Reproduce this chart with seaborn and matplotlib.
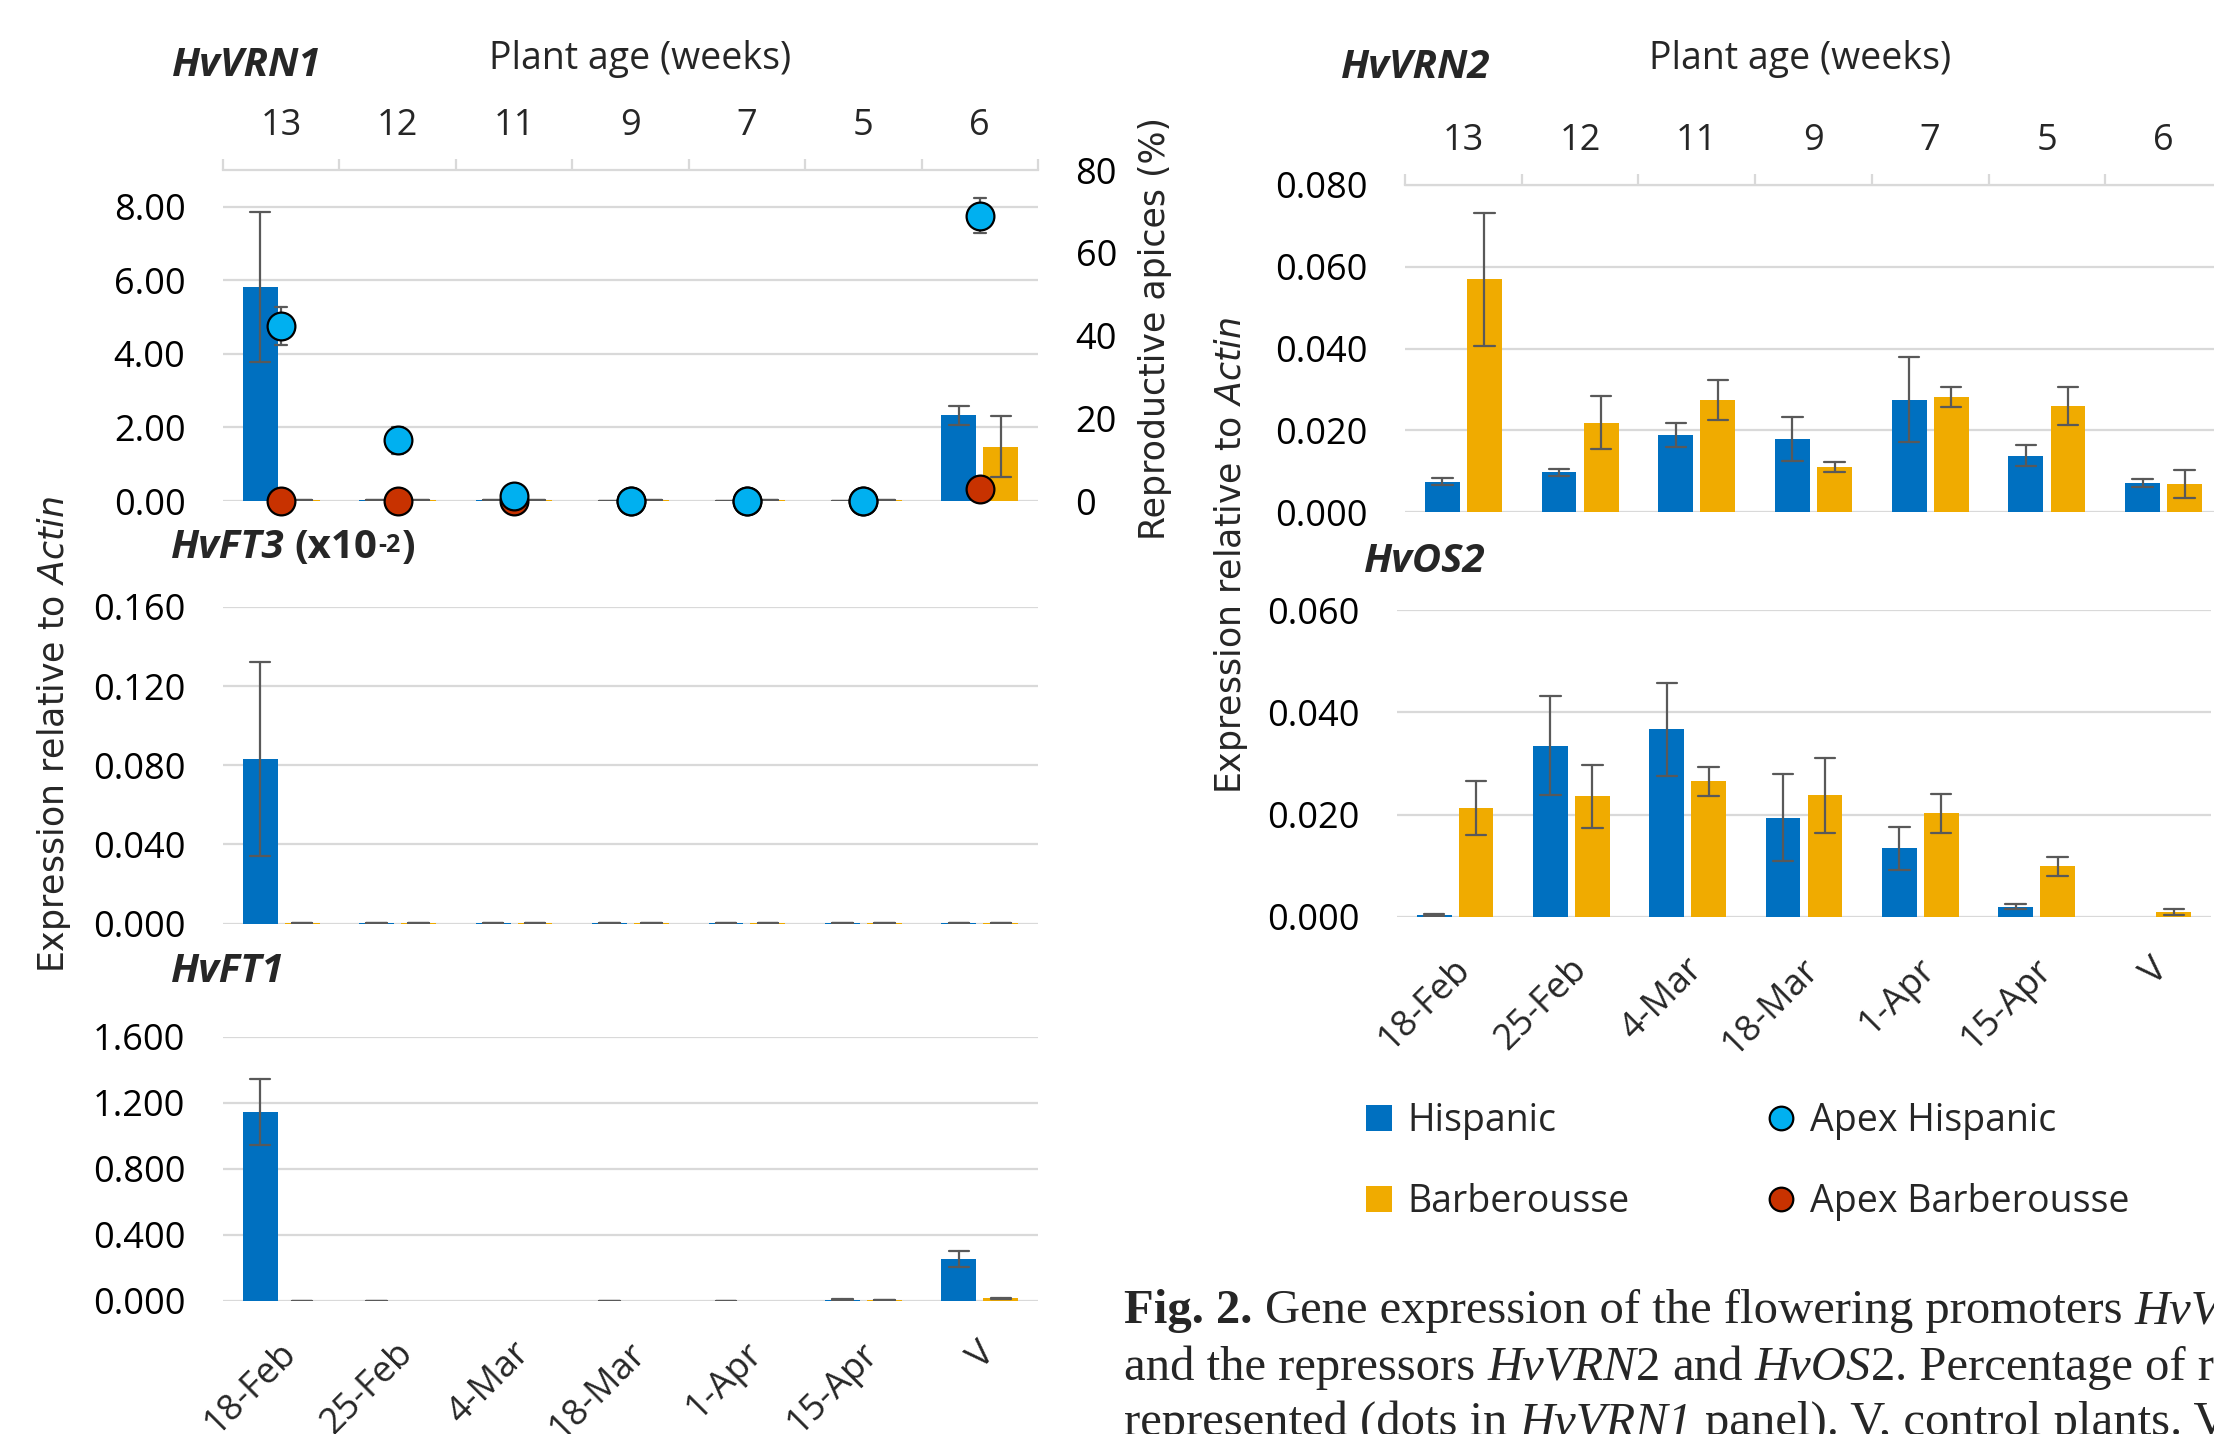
import numpy as np
import pandas as pd
import matplotlib
matplotlib.use("Agg")
import matplotlib.pyplot as plt
import matplotlib.transforms as mtransforms
from matplotlib.text import Annotation
from matplotlib.lines import Line2D
from matplotlib.patches import Patch
import seaborn as sns

# ---------------- data ----------------
categories = ["18-Feb", "25-Feb", "4-Mar", "18-Mar", "1-Apr", "15-Apr", "V"]
weeks = ["13", "12", "11", "9", "7", "5", "6"]
genotypes = ["Hispanic", "Barberousse"]
nan = np.nan

vrn1_hisp = [5.82, 0.02, 0.02, 0.01, 0.01, 0.01, 2.33]
vrn1_hisp_err = [2.05, 0, 0, 0, 0, 0, 0.25]
vrn1_barb = [0.02, 0.02, 0.02, 0.02, 0.02, 0.02, 1.47]
vrn1_barb_err = [0, 0, 0, 0, 0, 0, 0.83]

apex_hisp = [42.2, 14.7, 1.1, 0, 0, 0, 69.0]
apex_hisp_err = [4.6, 3.3, 0, 0, 0, 0, 4.3]
apex_barb = [0, 0, 0, 0, 0, 0, 2.9]

ft3_hisp = [0.0832, 0.0003, 0.0003, 0.0003, 0.0003, 0.0003, 0.0005]
ft3_hisp_err = [0.049, 0, 0, 0, 0, 0, 0]
ft3_barb = [0.0003, 0.0003, 0.0003, 0.0003, 0.0003, 0.0003, 0.0003]
ft3_barb_err = [0, 0, 0, 0, 0, 0, 0]

ft1_hisp = [1.143, 0.003, nan, 0.003, 0.003, 0.008, 0.253]
ft1_hisp_err = [0.20, 0, nan, 0, 0, 0.002, 0.048]
ft1_barb = [0.003, nan, nan, nan, nan, 0.004, 0.016]
ft1_barb_err = [0, nan, nan, nan, nan, 0, 0.004]

vrn2_hisp = [0.0074, 0.0097, 0.0189, 0.0178, 0.0275, 0.0138, 0.0071]
vrn2_hisp_err = [0.0008, 0.0009, 0.0029, 0.0054, 0.0104, 0.0025, 0.0010]
vrn2_barb = [0.0569, 0.0218, 0.0274, 0.0111, 0.0281, 0.0259, 0.0068]
vrn2_barb_err = [0.0163, 0.0065, 0.0050, 0.0012, 0.0025, 0.0046, 0.0034]

os2_hisp = [0.0003, 0.0335, 0.0367, 0.0194, 0.0134, 0.0020, nan]
os2_hisp_err = [0.0002, 0.0097, 0.0091, 0.0085, 0.0042, 0.0005, nan]
os2_barb = [0.0213, 0.0236, 0.0265, 0.0238, 0.0203, 0.0099, 0.0010]
os2_barb_err = [0.0053, 0.0062, 0.0029, 0.0073, 0.0038, 0.0018, 0.0006]

# ---------------- style ----------------
sns.set_theme(style="white")
plt.rcParams["font.family"] = ["Open Sans", "DejaVu Sans"]
plt.rcParams["mathtext.fontset"] = "dejavusans"

BLUE = "#0070C0"
GOLD = "#F0AB00"
CYAN = "#00B0F0"
RED = "#C83200"
GRID = "#D9D9D9"
ERR = "#595959"
palette = {"Hispanic": BLUE, "Barberousse": GOLD}
FS = 26
TFS = 29

W, H = 2214, 1434
fig = plt.figure(figsize=(W / 100, H / 100), dpi=100)


def rect(x0, y0, x1, y1):
    return [x0 / W, 1 - y1 / H, (x1 - x0) / W, (y1 - y0) / H]


def long_table(h, he, b, be):
    rows = []
    for g, m, e in (("Hispanic", h, he), ("Barberousse", b, be)):
        for c, mi, ei in zip(categories, m, e):
            if np.isnan(mi):
                continue
            rows.append((c, g, mi - ei))
            rows.append((c, g, mi + ei))
    return pd.DataFrame(rows, columns=["date", "genotype", "value"])


def bars(ax, h, he, b, be):
    df = long_table(h, he, b, be)
    sns.barplot(data=df, x="date", y="value", hue="genotype", order=categories,
                hue_order=genotypes, palette=palette, estimator="mean",
                errorbar=("pi", 100), capsize=0.35,
                err_kws={"color": ERR, "linewidth": 1.6},
                width=0.72, gap=0.17, linewidth=0, saturation=1,
                legend=False, ax=ax)


def style(ax, top, ticks, fmt):
    ax.set_xlim(-0.5, 6.5)
    ax.set_ylim(0, top)
    ax.set_yticks(ticks)
    ax.set_yticklabels([fmt.format(t) for t in ticks])
    ax.grid(axis="y", color=GRID, linewidth=1.6)
    ax.grid(axis="x", visible=False)
    ax.set_axisbelow(True)
    for s in ax.spines.values():
        s.set_visible(False)
    ax.tick_params(axis="y", length=0, pad=27, labelsize=FS, labelcolor="black")
    ax.set_xlabel("")
    ax.set_ylabel("")


def top_weeks(ax, pad):
    ax.tick_params(axis="x", bottom=False, labelbottom=False)
    sec = ax.secondary_xaxis("top")
    sec.set_xticks(range(len(weeks)), labels=weeks)
    sec.set_xticks(np.arange(-0.5, len(weeks), 1.0), minor=True)
    sec.tick_params(which="major", length=0, pad=pad, labelsize=FS)
    sec.tick_params(which="minor", length=8, width=1.6, color=GRID, direction="out")
    sec.spines["top"].set_color(GRID)
    sec.spines["top"].set_linewidth(1.6)
    return sec


def bottom_dates(ax, dx_px):
    ax.tick_params(axis="x", length=0, pad=34, labelsize=FS, labelrotation=45)
    off = mtransforms.ScaledTranslation(dx_px / 100, 0, fig.dpi_scale_trans)
    for lab in ax.get_xticklabels():
        lab.set_ha("right")
        lab.set_va("center")
        lab.set_rotation_mode("anchor")
        lab.set_transform(lab.get_transform() + off)


# ---------------- HvVRN1 ----------------
ax1 = fig.add_axes(rect(223, 170, 1038, 501))
bars(ax1, vrn1_hisp, vrn1_hisp_err, vrn1_barb, vrn1_barb_err)
ax1b = ax1.twinx()
dfr = pd.DataFrame({"date": categories, "value": apex_barb})
sns.pointplot(data=dfr, x="date", y="value", order=categories, color=RED,
              markers="o", linestyle="none", errorbar=None,
              markersize=20, markeredgecolor="black", markeredgewidth=1.6,
              zorder=3, clip_on=False, ax=ax1b)
rows = []
for c, m, e in zip(categories, apex_hisp, apex_hisp_err):
    rows += [(c, m - e), (c, m + e)]
dfc = pd.DataFrame(rows, columns=["date", "value"])
sns.pointplot(data=dfc, x="date", y="value", order=categories, color=CYAN,
              markers="o", linestyle="none", errorbar=("pi", 100), capsize=0.1,
              err_kws={"color": ERR, "linewidth": 1.6, "zorder": 2},
              markersize=20, markeredgecolor="black", markeredgewidth=1.6,
              zorder=4, clip_on=False, ax=ax1b)
style(ax1, 9, [0, 2, 4, 6, 8], "{:.2f}")
ax1b.set_ylim(0, 80)
ax1b.set_yticks([0, 20, 40, 60, 80])
ax1b.set_yticklabels(["0", "20", "40", "60", "80"])
ax1b.tick_params(axis="y", length=0, pad=27, labelsize=FS, labelcolor="black")
for s in ax1b.spines.values():
    s.set_visible(False)
ax1b.set_ylabel("")
ax1b.set_xlabel("")
ax1.set_xlim(-0.5, 6.5)
top_weeks(ax1, 19)

# ---------------- HvFT3 ----------------
ax3 = fig.add_axes(rect(223, 607, 1038, 923.5))
bars(ax3, ft3_hisp, ft3_hisp_err, ft3_barb, ft3_barb_err)
style(ax3, 0.16, [0, 0.04, 0.08, 0.12, 0.16], "{:.3f}")
ax3.tick_params(axis="x", bottom=False, labelbottom=False)

# ---------------- HvFT1 ----------------
ax4 = fig.add_axes(rect(223, 1037, 1038, 1301))
bars(ax4, ft1_hisp, ft1_hisp_err, ft1_barb, ft1_barb_err)
style(ax4, 1.6, [0, 0.4, 0.8, 1.2, 1.6], "{:.3f}")
bottom_dates(ax4, 10)

# ---------------- HvVRN2 ----------------
ax2 = fig.add_axes(rect(1405, 185, 2222, 512))
bars(ax2, vrn2_hisp, vrn2_hisp_err, vrn2_barb, vrn2_barb_err)
style(ax2, 0.08, [0, 0.02, 0.04, 0.06, 0.08], "{:.3f}")
top_weeks(ax2, 19)

# ---------------- HvOS2 ----------------
ax5 = fig.add_axes(rect(1397, 610, 2211, 917))
bars(ax5, os2_hisp, os2_hisp_err, os2_barb, os2_barb_err)
style(ax5, 0.06, [0, 0.02, 0.04, 0.06], "{:.3f}")
bottom_dates(ax5, 10)


# ---------------- texts ----------------
def ftext(x, y, s, **kw):
    return fig.text(x / W, 1 - y / H, s, **kw)


bi = dict(fontsize=TFS, weight="bold", style="italic", va="center", ha="left")
ftext(172, 66, "HvVRN1", **bi)
ftext(1341, 67, "HvVRN2", **bi)
ftext(171, 972, "HvFT1", **bi)
ftext(1364, 562, "HvOS2", **bi)
t_ft3 = ftext(171, 548, "HvFT3", **bi)
t_x = Annotation("(x10", xy=(1, 0), xycoords=t_ft3, xytext=(7, 0),
                 textcoords="offset points", fontsize=TFS, weight="bold",
                 va="bottom", ha="left")
fig.add_artist(t_x)
t_sup = Annotation("-2", xy=(1, 1), xycoords=t_x, xytext=(1, -3),
                   textcoords="offset points", fontsize=18, weight="bold",
                   va="top", ha="left")
fig.add_artist(t_sup)
t_par = Annotation(")", xy=(1, 0), xycoords=(t_sup, t_x), xytext=(1, 0),
                   textcoords="offset points", fontsize=TFS, weight="bold",
                   va="bottom", ha="left")
fig.add_artist(t_par)

ftext(640, 59, "Plant age (weeks)", fontsize=FS + 1, ha="center", va="center")
ftext(1800, 59, "Plant age (weeks)", fontsize=FS + 1, ha="center", va="center")

yl = dict(fontsize=25, rotation=90, ha="center", va="center", family="DejaVu Sans")
ftext(54, 734, r"Expression relative to $\mathit{Actin}$", **yl)
ftext(1231, 555, r"Expression relative to $\mathit{Actin}$", **yl)
ftext(1155, 328, "Reproductive apices (%)", **yl)

# ---------------- legend ----------------
handles = [
    Patch(facecolor=BLUE, edgecolor="none"),
    Patch(facecolor=GOLD, edgecolor="none"),
    Line2D([], [], marker="o", linestyle="none", markerfacecolor=CYAN,
           markeredgecolor="black", markeredgewidth=1.6, markersize=17),
    Line2D([], [], marker="o", linestyle="none", markerfacecolor=RED,
           markeredgecolor="black", markeredgewidth=1.6, markersize=17),
]
labels = ["Hispanic", "Barberousse", "Apex Hispanic", "Apex Barberousse"]
fig.legend(handles, labels, ncol=2, loc="upper left",
           bbox_to_anchor=(1366 / W, 1 - 1102 / H), frameon=False,
           fontsize=27, handlelength=0.68, handleheight=0.68, handletextpad=0.42,
           columnspacing=3.7, labelspacing=1.15, borderpad=0, borderaxespad=0)

# ---------------- caption ----------------
CFS = 35
CAP = dict(fontsize=CFS, family="Liberation Serif", va="baseline", ha="left")
SPACE = 0.25 * CFS


def caption_line(pieces, x, y):
    prev = None
    for txt, st, sp in pieces:
        kw = dict(CAP)
        if st == "b":
            kw["weight"] = "bold"
        elif st == "i":
            kw["style"] = "italic"
        if prev is None:
            prev = ftext(x, y, txt, **kw)
        else:
            a = Annotation(txt, xy=(1, H - y), xycoords=(prev, "figure pixels"),
                           xytext=(SPACE if sp else 0, 0), textcoords="offset points",
                           **kw)
            fig.add_artist(a)
            prev = a


caption_line([("Fig. 2.", "b", False),
              ("Gene expression of the flowering promoters", "r", True),
              ("HvVRN1,", "i", True)], 1124, 1323)
caption_line([("and the repressors", "r", False),
              ("HvVRN", "i", True), ("2", "r", False),
              ("and", "r", True), ("HvOS", "i", True), ("2", "r", False),
              (". Percentage of reproductive", "r", False)], 1124, 1380)
caption_line([("represented (dots in", "r", False),
              ("HvVRN1", "i", True),
              ("panel). V, control plants. V", "r", True)], 1124, 1435)

fig.savefig("out.png", dpi=100)
